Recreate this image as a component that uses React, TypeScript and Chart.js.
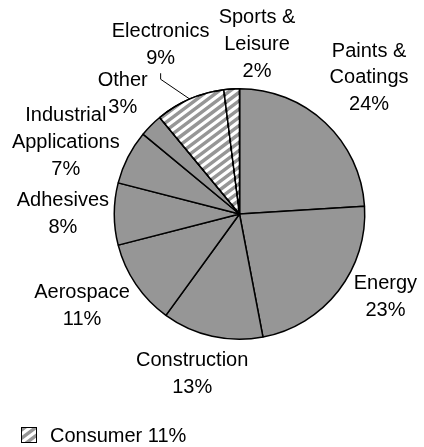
import React, { useEffect, useRef } from "react";
import { Chart, registerables } from "chart.js";

Chart.register(...registerables);

// ---- data ----
const categories = [
  "Paints & Coatings",
  "Energy",
  "Construction",
  "Aerospace",
  "Adhesives",
  "Industrial Applications",
  "Other",
  "Electronics",
  "Sports & Leisure",
];
const labelLines = [
  ["Paints &", "Coatings"],
  ["Energy"],
  ["Construction"],
  ["Aerospace"],
  ["Adhesives"],
  ["Industrial", "Applications"],
  ["Other"],
  ["Electronics"],
  ["Sports &", "Leisure"],
];
const values = [24, 23, 13, 11, 8, 7, 3, 9, 2];
const consumerGroup = [false, false, false, false, false, false, false, true, true];
const legendText = "Consumer 11%";
const leaderFor = "Electronics";

// ---- label layout (angle offset from slice middle in degrees, distance as share of radius) ----
const labelAngleShift = [0.4, -8.2, 3.9, 3.9, 0, -4.6, 0.7, -1.6, 9.5];
const labelDistance = [1.5, 1.34, 1.33, 1.456, 1.41, 1.5, 1.335, 1.49, 1.36];

const GRAY = "#969696";
const FONT = '20px "Liberation Sans", Arial, sans-serif';
const LINE_H = 26.8;
const HATCH_SLOPE = 0.75;
const HATCH_PERIOD = 8.3;
const HATCH_WHITE = 4;

function drawHatch(c: CanvasRenderingContext2D, w: number, h: number) {
  c.fillStyle = "#ffffff";
  c.beginPath();
  for (let k = -40; k < (h + w) / HATCH_PERIOD + 40; k++) {
    const base = k * HATCH_PERIOD;
    c.moveTo(0, base);
    c.lineTo(w, base - HATCH_SLOPE * w);
    c.lineTo(w, base - HATCH_SLOPE * w + HATCH_WHITE);
    c.lineTo(0, base + HATCH_WHITE);
    c.closePath();
  }
  c.fill();
}

export default function App() {
  const ref = useRef<HTMLCanvasElement>(null);

  useEffect(() => {
    document.body.style.margin = "0";
    const canvas = ref.current!;

    const hatchPlugin = {
      id: "hatch",
      afterDatasetsDraw(chart: any) {
        const c = chart.ctx as CanvasRenderingContext2D;
        const meta = chart.getDatasetMeta(0);
        meta.data.forEach((arc: any, i: number) => {
          if (!consumerGroup[i]) return;
          const { x, y, startAngle, endAngle, outerRadius } = arc.getProps(
            ["x", "y", "startAngle", "endAngle", "outerRadius"],
            true
          );
          const path = () => {
            c.beginPath();
            c.moveTo(x, y);
            c.arc(x, y, outerRadius, startAngle, endAngle);
            c.closePath();
          };
          c.save();
          path();
          c.clip();
          drawHatch(c, chart.width, chart.height);
          c.restore();
          c.save();
          path();
          c.strokeStyle = "#000";
          c.lineWidth = 1.5;
          c.lineJoin = "round";
          c.stroke();
          c.restore();
        });
      },
    };

    const labelPlugin = {
      id: "pieLabels",
      afterDraw(chart: any) {
        const c = chart.ctx as CanvasRenderingContext2D;
        const meta = chart.getDatasetMeta(0);
        c.save();
        c.font = FONT;
        c.fillStyle = "#000";
        c.textAlign = "center";
        c.textBaseline = "middle";
        meta.data.forEach((arc: any, i: number) => {
          const { x, y, startAngle, endAngle, outerRadius } = arc.getProps(
            ["x", "y", "startAngle", "endAngle", "outerRadius"],
            true
          );
          const mid = (startAngle + endAngle) / 2;
          const a = mid + (labelAngleShift[i] * Math.PI) / 180;
          const d = outerRadius * labelDistance[i];
          const cx = x + Math.cos(a) * d;
          const cy = y + Math.sin(a) * d;
          const lines = [...labelLines[i], `${values[i]}%`];
          const top = cy - ((lines.length - 1) * LINE_H) / 2;
          lines.forEach((t, k) => c.fillText(t, cx, top + k * LINE_H));
          if (categories[i] === leaderFor) {
            const bottom = top + (lines.length - 1) * LINE_H;
            const ex = x + Math.cos(mid) * outerRadius;
            const ey = y + Math.sin(mid) * outerRadius;
            c.beginPath();
            c.strokeStyle = "#000";
            c.lineWidth = 1;
            c.moveTo(cx, bottom + 15);
            c.lineTo(cx, bottom + 21);
            c.lineTo(ex, ey);
            c.stroke();
          }
        });
        // legend
        const lx = 21;
        const ly = chart.height - 20;
        c.fillStyle = GRAY;
        c.fillRect(lx, ly, 16, 16);
        c.save();
        c.beginPath();
        c.rect(lx, ly, 16, 16);
        c.clip();
        drawHatch(c, chart.width, chart.height);
        c.restore();
        c.strokeStyle = "#000";
        c.lineWidth = 1;
        c.strokeRect(lx + 0.5, ly + 0.5, 15, 15);
        c.fillStyle = "#000";
        c.textAlign = "left";
        c.fillText(legendText, lx + 29, ly + 9);
        c.restore();
      },
    };

    const chart = new Chart(canvas, {
      type: "pie",
      data: {
        labels: categories,
        datasets: [
          {
            data: values,
            backgroundColor: GRAY,
            borderColor: "#000",
            borderWidth: 1.5,
          },
        ],
      },
      options: {
        animation: false,
        responsive: false,
        layout: { padding: { left: 113.5, right: 58.5, top: 88, bottom: 107 } },
        plugins: {
          legend: { display: false },
          tooltip: { enabled: false },
        },
      },
      plugins: [hatchPlugin, labelPlugin],
    });
    return () => chart.destroy();
  }, []);

  return <canvas ref={ref} width={424} height={447} style={{ display: "block" }} />;
}
